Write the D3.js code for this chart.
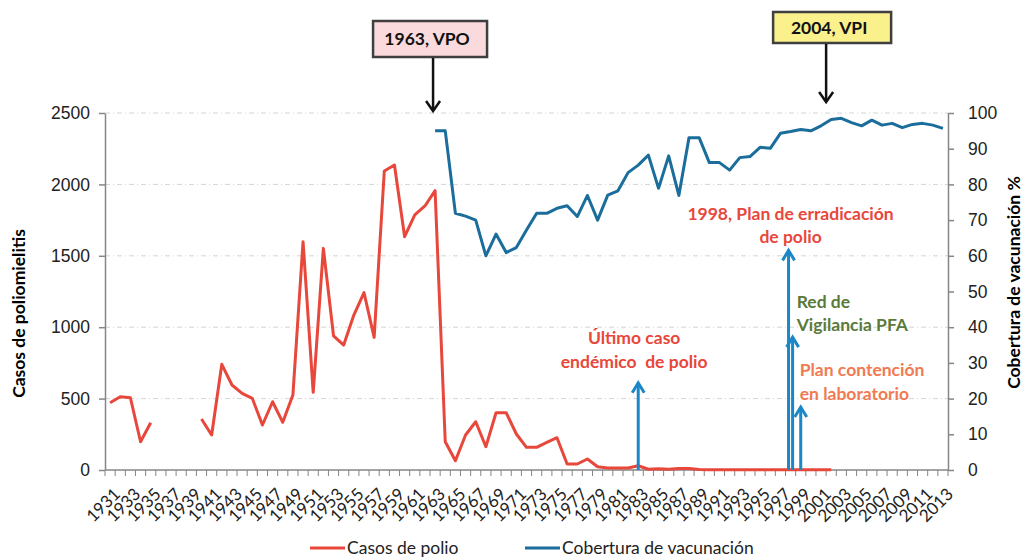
<!DOCTYPE html>
<html>
<head>
<meta charset="utf-8">
<script src="https://cdn.jsdelivr.net/npm/d3@7"></script>
<style>
  body { margin: 0; background: #fff; }
  svg { font-family: Lato, "Open Sans", sans-serif; }
</style>
</head>
<body>
<svg width="1023" height="557"></svg>
<script>
// years 1931..2013 (categories)
const years = d3.range(1931, 2014);
const yearLabels = years.filter((y, i) => i % 2 === 0);

// polio cases, null = no data
const casos = [
  471, 513, 506, 198, 331, null, null, null, null, 357,
  245, 740, 595, 537, 502, 315, 478, 334, 525, 1599,
  544, 1552, 940, 875, 1085, 1242, 929, 2094, 2136, 1634,
  1786, 1849, 1956, 198, 65, 245, 338, 163, 401, 401,
  252, 159, 159, 194, 226, 42, 42, 77, 23, 14,
  14, 14, 30, 5, 8, 5, 10, 10, 3, 2,
  1, 1, 1, 1, 1, 1, 1, 1, 1, 1,
  1, 1, null, null, null, null, null, null, null, null,
  null, null, null
];

// vaccination coverage %, starts 1963
const cobertura = [
  null, null, null, null, null, null, null, null, null, null,
  null, null, null, null, null, null, null, null, null, null,
  null, null, null, null, null, null, null, null, null, null,
  null, null, 95.0, 95.0, 71.9, 71.1, 70.0, 60.0, 66.1, 60.9,
  62.3, 67.2, 71.9, 71.9, 73.3, 74.0, 71.0, 76.9, 70.0, 77.0,
  78.2, 83.3, 85.4, 88.2, 78.9, 88.0, 76.9, 93.1, 93.1, 86.1,
  86.1, 84.0, 87.5, 87.8, 90.4, 90.1, 94.3, 94.8, 95.4, 95.0,
  96.4, 98.2, 98.5, 97.3, 96.4, 98.0, 96.6, 97.1, 95.9, 96.8,
  97.1, 96.6, 95.7
];

const leftTicks = [0, 500, 1000, 1500, 2000, 2500];
const rightTicks = [0, 10, 20, 30, 40, 50, 60, 70, 80, 90, 100];

// callout boxes (year the arrow points to)
const callouts = [
  { label: "1963, VPO", year: 1962.8, fill: "#fadadd" },
  { label: "2004, VPI", year: 2001.5, fill: "#faf08c" }
];

// blue up-arrows: year and height of tip in coverage %
const upArrows = [
  { year: 1983, pct: 24.7 },
  { year: 1997.8, pct: 61.8 },
  { year: 1998.2, pct: 37.5 },
  { year: 1999, pct: 17.9 }
];

const notes = [
  { lines: ["Último caso", "endémico  de polio"], year: 1982.6, pct: 37.0, anchor: "middle", color: "#e8473b" },
  { lines: ["1998, Plan de erradicación", "de polio"], year: 1998.0, pct: 71.8, anchor: "middle", color: "#e8473b" },
  { lines: ["Red de", "Vigilancia PFA"], year: 1998.6, pct: 47.2, anchor: "start", color: "#5b7a3a" },
  { lines: ["Plan contención", "en laboratorio"], year: 1998.9, pct: 28.0, anchor: "start", color: "#f07a52" }
];

const svg = d3.select('svg');
const margin = { top: 113, right: 75, bottom: 87, left: 105 };
const width = +svg.attr('width');
const height = +svg.attr('height');
const x0 = margin.left, x1 = width - margin.right;
const y0 = height - margin.bottom, y1 = margin.top;

const xScale = d3.scaleBand().domain(years).range([x0, x1]).padding(0);
const bw = xScale.bandwidth();
const xc = yr => xScale(yr) + bw / 2;
const xYear = d3.scaleLinear().domain([1931, 2013]).range([xc(1931), xc(2013)]);

const yLeft = d3.scaleLinear().domain([0, 2500]).range([y0, y1]);
const yRight = d3.scaleLinear().domain([0, 100]).range([y0, y1]);

const axisColor = "#868686";
const fs = 17.5;

// gridlines
svg.append("g")
  .selectAll("line")
  .data(leftTicks.filter(d => d > 0))
  .join("line")
    .attr("x1", x0).attr("x2", x1)
    .attr("y1", d => yLeft(d)).attr("y2", d => yLeft(d))
    .attr("stroke", "#d4d4d4")
    .attr("stroke-width", 1)
    .attr("stroke-dasharray", "5,3,1,3");

// left axis
const leftAxis = svg.append("g")
  .attr("transform", `translate(${x0},0)`)
  .call(d3.axisLeft(yLeft).tickValues(leftTicks).tickFormat(d3.format("d")).tickSize(6).tickPadding(9).tickSizeOuter(0));
leftAxis.select(".domain").attr("stroke", axisColor).attr("stroke-width", 1.5);
leftAxis.selectAll(".tick line").attr("stroke", axisColor).attr("stroke-width", 1.5);
leftAxis.selectAll(".tick text").attr("fill", "#222").attr("font-size", fs);

// right axis
const rightAxis = svg.append("g")
  .attr("transform", `translate(${x1},0)`)
  .call(d3.axisRight(yRight).tickValues(rightTicks).tickSize(6).tickPadding(14).tickSizeOuter(0));
rightAxis.select(".domain").attr("stroke", axisColor).attr("stroke-width", 1.5);
rightAxis.selectAll(".tick line").attr("stroke", axisColor).attr("stroke-width", 1.5);
rightAxis.selectAll(".tick text").attr("fill", "#222").attr("font-size", fs);

// x axis: ticks on band boundaries
const xg = svg.append("g");
xg.append("line")
  .attr("x1", x0).attr("x2", x1).attr("y1", y0).attr("y2", y0)
  .attr("stroke", axisColor).attr("stroke-width", 1.5);
xg.selectAll("line.tk")
  .data(years.concat([2014]))
  .join("line")
    .attr("class", "tk")
    .attr("x1", d => d === 2014 ? x1 : xScale(d))
    .attr("x2", d => d === 2014 ? x1 : xScale(d))
    .attr("y1", y0).attr("y2", y0 + 6)
    .attr("stroke", axisColor).attr("stroke-width", 1);
xg.selectAll("text")
  .data(yearLabels)
  .join("text")
    .attr("transform", d => `translate(${xc(d) + 7},${y0 + 21}) rotate(-45)`)
    .attr("text-anchor", "end")
    .attr("dy", "0.35em")
    .attr("font-size", 17)
    .attr("fill", "#222")
    .text(d => d);

// axis titles
svg.append("text")
  .attr("transform", `translate(19,${(y0 + y1) / 2 + 22}) rotate(-90)`)
  .attr("text-anchor", "middle")
  .attr("dy", "0.35em")
  .attr("font-size", fs)
  .attr("font-weight", "bold")
  .text("Casos de poliomielitis");
svg.append("text")
  .attr("transform", `translate(1014,${(y0 + y1) / 2 - 9}) rotate(-90)`)
  .attr("text-anchor", "middle")
  .attr("dy", "0.35em")
  .attr("font-size", fs)
  .attr("font-weight", "bold")
  .text("Cobertura de vacunación %");

// lines
const casosLine = d3.line()
  .defined(d => d[1] !== null)
  .x(d => xc(d[0]))
  .y(d => yLeft(d[1]));
const cobLine = d3.line()
  .defined(d => d[1] !== null)
  .x(d => xc(d[0]))
  .y(d => yRight(d[1]));

svg.append("path")
  .datum(years.map((y, i) => [y, cobertura[i]]))
  .attr("d", cobLine)
  .attr("fill", "none")
  .attr("stroke", "#1b6d9b")
  .attr("stroke-width", 3)
  .attr("stroke-linejoin", "round");

svg.append("path")
  .datum(years.map((y, i) => [y, casos[i]]))
  .attr("d", casosLine)
  .attr("fill", "none")
  .attr("stroke", "#e8473b")
  .attr("stroke-width", 3)
  .attr("stroke-linejoin", "round");

// up arrows
const arrowBlue = "#1b87c7";
const ua = svg.append("g");
upArrows.forEach(a => {
  const ax = xYear(a.year), tip = yRight(a.pct);
  ua.append("line")
    .attr("x1", ax).attr("x2", ax).attr("y1", y0).attr("y2", tip + 1)
    .attr("stroke", arrowBlue).attr("stroke-width", 3);
  ua.append("path")
    .attr("d", `M${ax - 6},${tip + 11}L${ax},${tip + 1}L${ax + 6},${tip + 11}`)
    .attr("fill", "none").attr("stroke", arrowBlue).attr("stroke-width", 3);
});

// notes
notes.forEach(n => {
  const t = svg.append("text")
    .attr("x", xYear(n.year))
    .attr("y", yRight(n.pct))
    .attr("text-anchor", n.anchor)
    .attr("font-size", fs)
    .attr("font-weight", "bold")
    .attr("fill", n.color);
  n.lines.forEach((l, i) => {
    t.append("tspan")
      .attr("x", xYear(n.year))
      .attr("dy", i === 0 ? "0.35em" : "1.35em")
      .attr("xml:space", "preserve")
      .text(l);
  });
});

// callouts
const boxes = [
  { dx: -60, top: 21, h: 36, w: 114, tip: 112 },
  { dx: -53, top: 12, h: 31, w: 118, tip: 103 }
];
callouts.forEach((c, i) => {
  const b = boxes[i];
  const ax = xYear(c.year);
  const g = svg.append("g");
  g.append("rect")
    .attr("x", ax + b.dx).attr("y", b.top)
    .attr("width", b.w).attr("height", b.h)
    .attr("fill", c.fill).attr("stroke", "#3f3f3f").attr("stroke-width", 2.5);
  g.append("text")
    .attr("x", ax + b.dx + b.w / 2 - 3).attr("y", b.top + b.h / 2)
    .attr("dy", "0.35em")
    .attr("text-anchor", "middle")
    .attr("font-size", fs).attr("font-weight", "bold").attr("fill", "#111")
    .text(c.label);
  g.append("line")
    .attr("x1", ax).attr("x2", ax).attr("y1", b.top + b.h + 1).attr("y2", b.tip - 1)
    .attr("stroke", "#111").attr("stroke-width", 2.5);
  g.append("path")
    .attr("d", `M${ax - 7},${b.tip - 11}L${ax},${b.tip - 1}L${ax + 7},${b.tip - 11}`)
    .attr("fill", "none").attr("stroke", "#111").attr("stroke-width", 2.5);
});

// legend
const legend = [
  { name: "Casos de polio", color: "#e8473b", x: 310 },
  { name: "Cobertura de vacunación", color: "#1b6d9b", x: 525 }
];
const lg = svg.append("g").selectAll("g").data(legend).join("g")
  .attr("transform", d => `translate(${d.x},548)`);
lg.append("line").attr("x1", 0).attr("x2", 35).attr("stroke", d => d.color).attr("stroke-width", 3);
lg.append("text").attr("x", 37).attr("dy", "0.35em").attr("font-size", fs).attr("fill", "#222").text(d => d.name);
</script>
</body>
</html>
